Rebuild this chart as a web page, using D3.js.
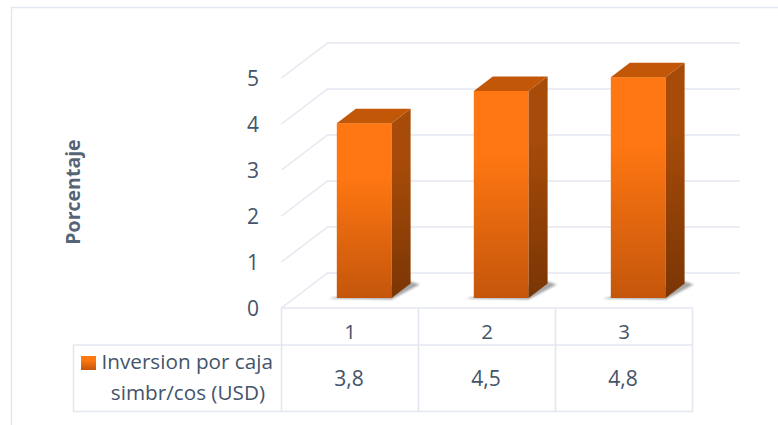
<!DOCTYPE html>
<html><head><meta charset="utf-8">
<script src="https://cdn.jsdelivr.net/npm/d3@7"></script>
<style>html,body{margin:0;padding:0;background:#fff}svg{display:block}text{font-family:"Open Sans",sans-serif;fill:#44546a}</style>
</head><body><svg id="c" width="778" height="425"></svg>
<script>
const categories = ["1","2","3"];
const values = [3.8,4.5,4.8];
const valueLabels = ["3,8","4,5","4,8"];
const yTicks = [0,1,2,3,4,5];
const seriesLines = ["Inversion por caja","simbr/cos (USD)"];
const yTitle = "Porcentaje";

const grid="#e3e7ef";
const svg=d3.select("#c");
const defs=svg.append("defs");
function grad(id,a,b){const g=defs.append("linearGradient").attr("id",id).attr("x1",0).attr("x2",0).attr("y1",0).attr("y2",1);
 g.append("stop").attr("offset","30%").attr("stop-color",a);g.append("stop").attr("offset","100%").attr("stop-color",b);}
grad("front","#ff7712","#c4560b");grad("side","#a64b09","#7a3504");
defs.append("filter").attr("id","blur").append("feGaussianBlur").attr("stdDeviation",1);

const y=d3.scaleLinear().domain([0,5]).range([308,78]);
const x=d3.scaleBand().domain(categories).range([281.5,692.5]).paddingInner(0.6).paddingOuter(0.3);
const wall={dx:46,dy:-35}, wallRight=740, barOff={dx:14.2,dy:-10}, depth={dx:19,dy:-14.5};

svg.append("path").attr("d","M11.5,425V7.5H778").attr("fill","none").attr("stroke",grid).attr("stroke-width",1.5);

const gl=svg.append("g").attr("fill","none").attr("stroke",grid).attr("stroke-width",1.5);
yTicks.forEach(t=>{
 gl.append("path").attr("d",`M${x.range()[0]},${y(t)}L${x.range()[0]+wall.dx},${y(t)+wall.dy}H${wallRight}`);
});

svg.append("g").selectAll("text").data(yTicks).join("text")
 .attr("x",259).attr("y",t=>y(t)+8.3).attr("text-anchor","end").attr("font-size",21).text(t=>t);
svg.append("text").attr("transform","translate(80,192) rotate(-90)").attr("text-anchor","middle")
 .attr("font-size",19.5).attr("font-weight",700).attr("fill-opacity",0.92).text(yTitle);

const bars=svg.append("g").selectAll("g").data(categories).join("g");
bars.each(function(c,i){
 const g=d3.select(this), L=x(c)+barOff.dx, w=x.bandwidth(), T=y(values[i])+barOff.dy, B=y(0)+barOff.dy, d=depth;
 g.append("path").attr("d",`M${L-8},${B+0.5}L${L+w},${B+1.5}L${L+w+d.dx+9},${B+d.dy+1}L${L+w+d.dx},${B+d.dy-2}Z`)
  .attr("fill","#777").attr("opacity",.65).attr("filter","url(#blur)");
 g.append("rect").attr("x",L).attr("y",T).attr("width",w).attr("height",B-T).attr("fill","url(#front)");
 g.append("path").attr("d",`M${L+w},${T}L${L+w+d.dx},${T+d.dy}V${B+d.dy}L${L+w},${B}Z`).attr("fill","url(#side)");
 g.append("path").attr("d",`M${L},${T}L${L+d.dx},${T+d.dy}H${L+w+d.dx}L${L+w},${T}Z`).attr("fill","#c25708");
});

const steps=categories.map(c=>x(c)-x.step()*x.paddingOuter());
const right=x.range()[1], rowTop=y(0), rowMid=345, rowBot=411.5, tabLeft=73.5;
const tl=svg.append("g").attr("fill","none").attr("stroke",grid).attr("stroke-width",1.6);
tl.append("path").attr("d",`M${x.range()[0]},${rowTop}H${right}V${rowBot}H${tabLeft}V${rowMid}H${right}`);
steps.forEach(s=>tl.append("path").attr("d",`M${s},${rowTop}V${rowBot}`));
categories.forEach((c,i)=>{
 const cx=steps[i]+x.step()/2;
 svg.append("text").attr("x",cx).attr("y",338.5).attr("text-anchor","middle").attr("font-size",20.5).text(c);
 svg.append("text").attr("x",cx-1).attr("y",385.5).attr("text-anchor","middle").attr("font-size",21).text(valueLabels[i]);
});
svg.append("rect").attr("x",81).attr("y",356).attr("width",15).attr("height",14).attr("fill","url(#front)");
seriesLines.forEach((s,i)=>svg.append("text").attr("x",i?265:273).attr("y",i?399.5:369).attr("text-anchor","end").attr("font-size",20.7).text(s));
</script></body></html>
